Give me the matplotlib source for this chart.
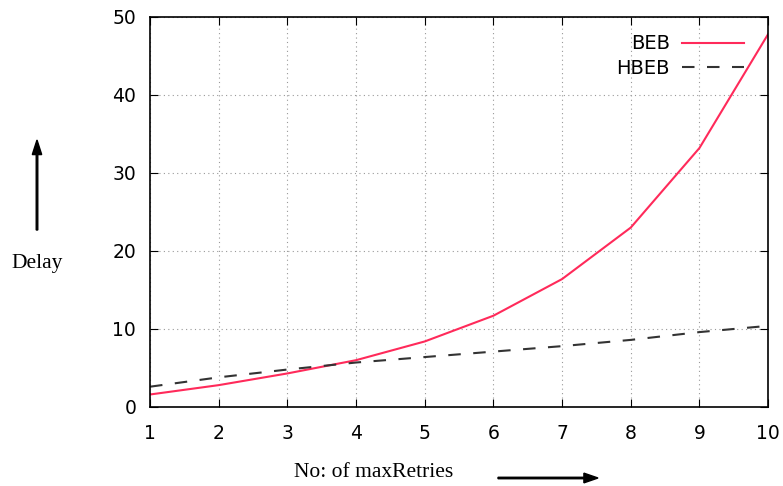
import matplotlib.pyplot as plt
from matplotlib.patches import FancyArrow

# values
retries = [1, 2, 3, 4, 5, 6, 7, 8, 9, 10]
beb = [1.6, 2.8, 4.3, 6.0, 8.4, 11.7, 16.4, 23.0, 33.2, 47.8]
hbeb = [2.6, 3.8, 4.8, 5.7, 6.4, 7.1, 7.8, 8.6, 9.6, 10.4]
yticks = [0, 10, 20, 30, 40, 50]

fig = plt.figure(figsize=(7.83, 4.86), dpi=100)
ax = fig.add_axes([0.1916, 0.1626, 0.7894, 0.8025])

ax.plot(retries, beb, color='#ff2a5a', linewidth=1.5, label='BEB')
ax.plot(retries, hbeb, color='#333333', linewidth=1.5,
        linestyle=(0, (6, 6)), label='HBEB')

ax.set_xlim(1, 10)
ax.set_ylim(0, 50)
ax.set_xticks(retries)
ax.set_yticks(yticks)
ax.tick_params(direction='in', top=True, right=True, length=6,
               labelsize=13.5, pad=10)
ax.tick_params(axis='x', pad=12)
ax.grid(True, color='#999999', linestyle=(0, (1, 3)), linewidth=0.8)
for s in ax.spines.values():
    s.set_linewidth(1.2)

ax.legend(loc='upper right', frameon=False, markerfirst=False,
          fontsize=14, handlelength=3.2, handletextpad=0.6,
          borderaxespad=1.1, labelspacing=0.3,
          bbox_to_anchor=(1.008, 1.03))

# axis captions with arrows, drawn in figure coordinates
fig.text(37 / 783, 1 - 263 / 486, 'Delay', family='Liberation Serif',
         fontsize=15.5, ha='center', va='center')
fig.text(374 / 783, 1 - 472 / 486, 'No: of maxRetries',
         family='Liberation Serif', fontsize=15.5, ha='center', va='center')
fig.patches.append(FancyArrow(
    37 / 783, 1 - 230 / 486, 0, 90 / 486, width=0.002,
    head_width=0.012, head_length=0.03, color='black',
    transform=fig.transFigure, length_includes_head=True))
fig.patches.append(FancyArrow(
    498 / 783, 1 - 478 / 486, 100 / 783, 0, width=0.003,
    head_width=0.02, head_length=0.018, color='black',
    transform=fig.transFigure, length_includes_head=True))

fig.savefig('out.png', dpi=100)
